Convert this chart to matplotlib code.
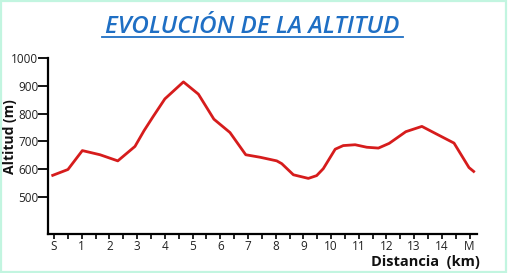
import matplotlib
matplotlib.use("Agg")
import matplotlib.pyplot as plt
from matplotlib.patches import Rectangle

# Data
distance_km = [-0.05, 0.5, 1.02, 1.66, 2.3, 2.92, 3.25, 3.58, 4.0, 4.67, 5.21, 5.77,
               6.35, 6.92, 7.44, 8.04, 8.22, 8.64, 9.18, 9.48, 9.72, 10.15, 10.44,
               10.87, 11.29, 11.71, 12.1, 12.7, 13.28, 13.8, 14.44, 14.98, 15.15]
altitude_m = [578, 599, 667, 652, 630, 682, 739, 790, 853, 914, 870, 780,
              732, 652, 643, 630, 620, 580, 567, 577, 602, 672, 685,
              688, 679, 676, 693, 735, 754, 727, 694, 606, 592]
x_tick_pos = list(range(16))
x_tick_labels = ["S"] + [str(i) for i in range(1, 15)] + ["M"]
y_ticks = [500, 600, 700, 800, 900, 1000]

plt.rcParams['font.family'] = ['Open Sans', 'DejaVu Sans']

fig = plt.figure(figsize=(5.09, 2.73), dpi=100)
fig.patch.set_facecolor("white")
# light mint border around the figure
fig.patches.append(Rectangle((0.002, 0.004), 0.993, 0.992, transform=fig.transFigure,
                             fill=False, edgecolor="#c2f5e0", linewidth=1.6))

ax = fig.add_axes([48/509, 1-234/273, (477-48)/509, (234-58)/273])
ax.plot(distance_km, altitude_m, color="#d61c1c", linewidth=2.0, solid_joinstyle="round")

ax.set_xlim(-0.22, 15.27)
ax.set_ylim(367, 1000)

for s in ["top", "right"]:
    ax.spines[s].set_visible(False)
for s in ["left", "bottom"]:
    ax.spines[s].set_linewidth(1.6)
    ax.spines[s].set_color("black")

ax.set_yticks(y_ticks)
ax.set_yticklabels([str(v) for v in y_ticks], fontsize=8.5, color="#222222")
ax.tick_params(axis="y", length=7, width=1.3, pad=0)

ax.set_xticks(x_tick_pos)
ax.set_xticklabels(x_tick_labels, fontsize=8.5, color="#222222")
ax.set_xticks([i + 0.5 for i in range(15)], minor=True)
ax.tick_params(axis="x", which="both", length=3.5, width=1.2, pad=1)

fig.text(10/509, 1-137/273, "Altitud (m)", rotation=90, fontsize=10, fontweight="bold",
         ha="center", va="center", color="#111111")
fig.text(480/509, 1-262/273, "Distancia  (km)", fontsize=10.5, fontweight="bold",
         ha="right", va="center", color="#111111")

title = fig.text(252/509, 1-33/273, "EVOLUCIÓN DE LA ALTITUD", fontsize=17.5,
                 fontweight="semibold", fontstyle="italic", color="#1f6fc4",
                 ha="center", va="baseline")
# underline
fig.add_artist(plt.Line2D([102/509, 403/509], [1-36.5/273, 1-36.5/273],
                          transform=fig.transFigure, color="#1f6fc4", linewidth=1.3))

fig.savefig("out.png", dpi=100)
